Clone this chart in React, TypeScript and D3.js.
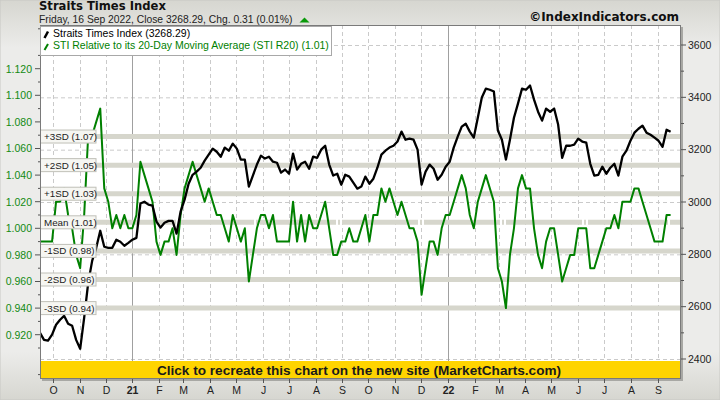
import React from 'react';
import * as d3 from 'd3';

const START_DATE = new Date(2020, 8, 16);
const END_DATE = new Date(2022, 8, 16);

// Straits Times Index close (sampled through the period)
const stiValues = [
  2500, 2473, 2470, 2493, 2531, 2550, 2565, 2535, 2527, 2473,
  2439, 2558, 2691, 2776, 2825, 2890, 2829, 2825, 2825, 2856,
  2848, 2833, 2844, 2856, 2863, 2994, 3001, 2990, 2986, 2925,
  2902, 2921, 2928, 2928, 2879, 2963, 3009, 3070, 3104, 3116,
  3131, 3158, 3181, 3204, 3192, 3173, 3208, 3196, 3223, 3204,
  3162, 3162, 3059, 3101, 3143, 3177, 3166, 3173, 3154, 3150,
  3112, 3124, 3108, 3185, 3124, 3146, 3154, 3127, 3173, 3169,
  3200, 3215, 3143, 3101, 3108, 3066, 3104, 3097, 3074, 3051,
  3059, 3097, 3070, 3089, 3131, 3181, 3196, 3208, 3215, 3231,
  3269, 3238, 3242, 3238, 3200, 3066, 3116, 3143, 3127, 3085,
  3104, 3135, 3154, 3208, 3250, 3288, 3299, 3269, 3246, 3322,
  3399, 3433, 3429, 3422, 3273, 3238, 3162, 3238, 3322, 3376,
  3433, 3429, 3445, 3391, 3345, 3311, 3357, 3345, 3357, 3296,
  3169, 3215, 3215, 3219, 3242, 3231, 3227, 3146, 3101, 3104,
  3135, 3108, 3131, 3146, 3101, 3173, 3196, 3234, 3265, 3280,
  3292, 3265, 3257, 3246, 3234, 3211, 3276, 3268.29,
];

// STI relative to its 20-day moving average
const r20Values = [
  0.99, 0.99, 0.99, 0.99, 1.02, 1.02, 1.03, 1.01, 1.00, 0.98,
  0.97, 1.01, 1.07, 1.07, 1.08, 1.09, 1.03, 1.02, 1.00, 1.01,
  1.00, 1.01, 1.00, 1.00, 1.01, 1.05, 1.04, 1.03, 1.02, 0.99,
  0.98, 0.99, 0.99, 1.00, 0.98, 1.01, 1.03, 1.04, 1.05, 1.04,
  1.03, 1.02, 1.03, 1.02, 1.01, 1.01, 1.00, 0.99, 1.01, 1.00,
  0.99, 1.00, 0.96, 0.98, 1.00, 1.01, 1.01, 1.00, 1.01, 0.99,
  0.99, 0.99, 0.99, 1.02, 0.99, 1.01, 0.99, 1.01, 1.00, 1.00,
  1.01, 1.02, 1.00, 0.98, 0.98, 0.99, 0.99, 1.00, 0.99, 0.99,
  1.00, 1.01, 0.99, 1.01, 1.01, 1.03, 1.02, 1.03, 1.02, 1.01,
  1.02, 1.01, 1.00, 1.00, 0.99, 0.95, 0.97, 0.99, 0.99, 0.98,
  1.00, 1.01, 1.01, 1.02, 1.03, 1.04, 1.03, 1.01, 1.00, 1.02,
  1.03, 1.04, 1.03, 1.02, 0.97, 0.96, 0.94, 0.98, 1.00, 1.03,
  1.04, 1.03, 1.03, 1.00, 0.98, 0.97, 0.99, 1.00, 1.00, 0.98,
  0.96, 0.97, 0.98, 0.98, 1.00, 1.00, 1.00, 0.97, 0.97, 0.98,
  0.99, 1.00, 1.00, 1.01, 1.00, 1.02, 1.02, 1.02, 1.03, 1.03,
  1.02, 1.01, 1.00, 0.99, 0.99, 0.99, 1.01, 1.01,
];

const leftTicks = [0.92, 0.94, 0.96, 0.98, 1.0, 1.02, 1.04, 1.06, 1.08, 1.1, 1.12];
const leftMinorTicks = [0.89, 0.91, 0.93, 0.95, 0.97, 0.99, 1.01, 1.03, 1.05, 1.07, 1.09, 1.11, 1.13, 1.15];
const rightTicks = [2400, 2600, 2800, 3000, 3200, 3400, 3600];
const rightMinorTicks = [2500, 2700, 2900, 3100, 3300, 3500];
const monthLabels = ['O', 'N', 'D', '21', 'F', 'M', 'A', 'M', 'J', 'J', 'A', 'S', 'O', 'N', 'D', '22', 'F', 'M', 'A', 'M', 'J', 'J', 'A', 'S'];

const r20Mean = 1.0045;
const r20Sd = 0.0215;
const sdMultipliers = [3, 2, 1, 0, -1, -2, -3];
const sdLabels = ['+3SD (1.07)', '+2SD (1.05)', '+1SD (1.03)', 'Mean (1.01)', '-1SD (0.98)', '-2SD (0.96)', '-3SD (0.94)'];

const FONT = '"Liberation Sans", Arial, sans-serif';
const BOLD_FONT = '"DejaVu Sans", Verdana, sans-serif';

export default function App() {
  const W = 720;
  const H = 400;
  const pl = 40, pr = 681, pt = 25, pb = 379;

  const x = d3.scaleTime().domain([START_DATE, END_DATE]).range([40, 670.6]);
  const yR = d3.scaleLinear().domain([2400, 3600]).range([359, 45]);
  const yL = d3.scaleLinear().domain([0.92, 1.12]).range([334.7, 68.7]);

  const n = stiValues.length;
  const span = END_DATE.getTime() - START_DATE.getTime();
  const dates = d3.range(n).map((i) => new Date(START_DATE.getTime() + (i * span) / (n - 1)));

  const stiLine = d3.line<number>().x((_, i) => x(dates[i])).y((d) => yR(d));
  const r20Line = d3.line<number>().x((_, i) => x(dates[i])).y((d) => yL(d));

  const months = d3.timeMonth.range(new Date(2020, 9, 1), new Date(2022, 9, 1));

  return (
    <div style={{ position: 'absolute', left: 0, top: 0 }}>
      <svg width={W} height={H} style={{ display: 'block' }}>
        <defs>
          <linearGradient id="bg" x1="0" y1="0" x2="0" y2="1">
            <stop offset="0" stopColor="#d6d6d0" />
            <stop offset="0.12" stopColor="#ececea" />
            <stop offset="0.88" stopColor="#ececea" />
            <stop offset="1" stopColor="#d6d6d0" />
          </linearGradient>
          <clipPath id="plotclip">
            <rect x={pl} y={pt} width={pr - pl} height={pb - pt} />
          </clipPath>
        </defs>
        <rect x={0} y={0} width={W} height={H} fill="url(#bg)" />
        <rect x={0} y={0} width={W} height={H} fill="none" stroke="#c8c8c4" />

        {/* plot shadow + background */}
        <rect x={pl + 2} y={pt + 2} width={pr - pl} height={pb - pt} fill="#a8a8a4" />
        <rect x={pl} y={pt} width={pr - pl} height={pb - pt} fill="#ffffff" />

        {/* grid */}
        <g clipPath="url(#plotclip)">
          {rightTicks.map((t) => (
            <line key={'hg' + t} x1={pl} x2={pr} y1={yR(t) + 0.5} y2={yR(t) + 0.5} stroke="#cacaca" strokeDasharray="4,3" />
          ))}
          {months.map((m, i) => {
            const xx = Math.round(x(m)) + 0.5;
            const isYear = m.getMonth() === 0;
            return (
              <line key={'vg' + i} x1={xx} x2={xx} y1={pt} y2={pb} stroke={isYear ? '#a0a0a0' : '#cacaca'} strokeDasharray={isYear ? undefined : '4,3'} />
            );
          })}

          {/* SD bands */}
          {sdMultipliers.map((k, i) =>
            k === 0 ? (
              <line key={'sd' + i} x1={96} x2={pr} y1={yL(r20Mean + k * r20Sd)} y2={yL(r20Mean + k * r20Sd)} stroke="#d6d6cc" strokeWidth={5} strokeDasharray="76,2,2,2" />
            ) : (
              <line key={'sd' + i} x1={pl} x2={pr} y1={yL(r20Mean + k * r20Sd)} y2={yL(r20Mean + k * r20Sd)} stroke="#d6d6cc" strokeWidth={5} />
            )
          )}

          <path d={r20Line(r20Values) || ''} fill="none" stroke="#008000" strokeWidth={2} strokeLinejoin="round" />
          <path d={stiLine(stiValues) || ''} fill="none" stroke="#000000" strokeWidth={2.3} strokeLinejoin="round" />

          {/* SD labels */}
          {sdMultipliers.map((k, i) => {
            const yy = yL(r20Mean + k * r20Sd);
            return (
              <g key={'sdl' + i}>
                <rect x={40.5} y={yy - 6.5} width={55.5} height={13} fill="#f6f6f2" stroke="#c0c0b8" />
                <text x={44} y={yy + 3.5} fontFamily={FONT} fontSize={9.8} fill="#222">{sdLabels[i]}</text>
              </g>
            );
          })}
        </g>

        {/* yellow banner */}
        <rect x={pl} y={361} width={pr - pl} height={pb - 361} fill="#ffd400" />
        <text x={359} y={375} textAnchor="middle" fontFamily={FONT} fontWeight="bold" fontSize={13.6} fill="#1a1a1a">
          Click to recreate this chart on the new site (MarketCharts.com)
        </text>

        {/* plot border */}
        <rect x={pl + 0.5} y={pt + 0.5} width={pr - pl - 1} height={pb - pt - 1} fill="none" stroke="#7a7a7a" />

        {/* left axis */}
        {leftTicks.map((t) => (
          <g key={'lt' + t}>
            <line x1={35} x2={40} y1={yL(t)} y2={yL(t)} stroke="#555" />
            <text x={32} y={yL(t) + 3.8} textAnchor="end" fontFamily={FONT} fontSize={10.5} fill="#128a12">{t.toFixed(3)}</text>
          </g>
        ))}
        {leftMinorTicks.map((t) => (
          <line key={'lmt' + t} x1={38} x2={40} y1={yL(t)} y2={yL(t)} stroke="#555" />
        ))}

        {/* right axis */}
        {rightTicks.map((t) => (
          <g key={'rt' + t}>
            <line x1={681} x2={686} y1={yR(t)} y2={yR(t)} stroke="#555" />
            <text x={688} y={yR(t) + 3.8} fontFamily={FONT} fontSize={10.5} fill="#222">{t}</text>
          </g>
        ))}
        {rightMinorTicks.map((t) => (
          <line key={'rmt' + t} x1={681} x2={684} y1={yR(t)} y2={yR(t)} stroke="#555" />
        ))}

        {/* bottom axis */}
        {months.map((m, i) => {
          const xx = Math.round(x(m)) + 0.5;
          const isYear = m.getMonth() === 0;
          return (
            <g key={'mt' + i}>
              <line x1={xx} x2={xx} y1={379} y2={383} stroke="#555" />
              <text x={xx} y={394} textAnchor="middle" fontFamily={FONT} fontSize={10.5} fontWeight={isYear ? 'bold' : 'normal'} fill="#222">
                {monthLabels[i]}
              </text>
            </g>
          );
        })}

        {/* legend */}
        <rect x={40.5} y={26.5} width={291} height={29} fill="#ffffff" stroke="#a8a8a8" />
        <line x1={44.5} y1={38} x2={48} y2={31.5} stroke="#000" strokeWidth={2.5} />
        <text x={53} y={37} fontFamily={FONT} fontSize={10.5} fill="#000">Straits Times Index (3268.29)</text>
        <line x1={44.5} y1={50} x2={48} y2={44} stroke="#008000" strokeWidth={2} />
        <text x={53} y={49} fontFamily={FONT} fontSize={10.5} fill="#008000">STI Relative to its 20-Day Moving Average (STI R20) (1.01)</text>

        {/* titles */}
        <text x={39} y={10} fontFamily={BOLD_FONT} fontWeight="bold" fontSize={11.6} fill="#111">Straits Times Index</text>
        <text x={39} y={22.5} fontFamily={FONT} fontSize={10.3} fill="#222">Friday, 16 Sep 2022, Close 3268.29, Chg. 0.31 (0.01%)</text>
        <path d="M299.5,22.5 L309.5,22.5 L304.5,17.5 Z" fill="#0a9a0a" />
        <text x={679} y={20.5} textAnchor="end" fontFamily={BOLD_FONT} fontWeight="bold" fontSize={12} fill="#111">©IndexIndicators.com</text>
      </svg>
    </div>
  );
}
